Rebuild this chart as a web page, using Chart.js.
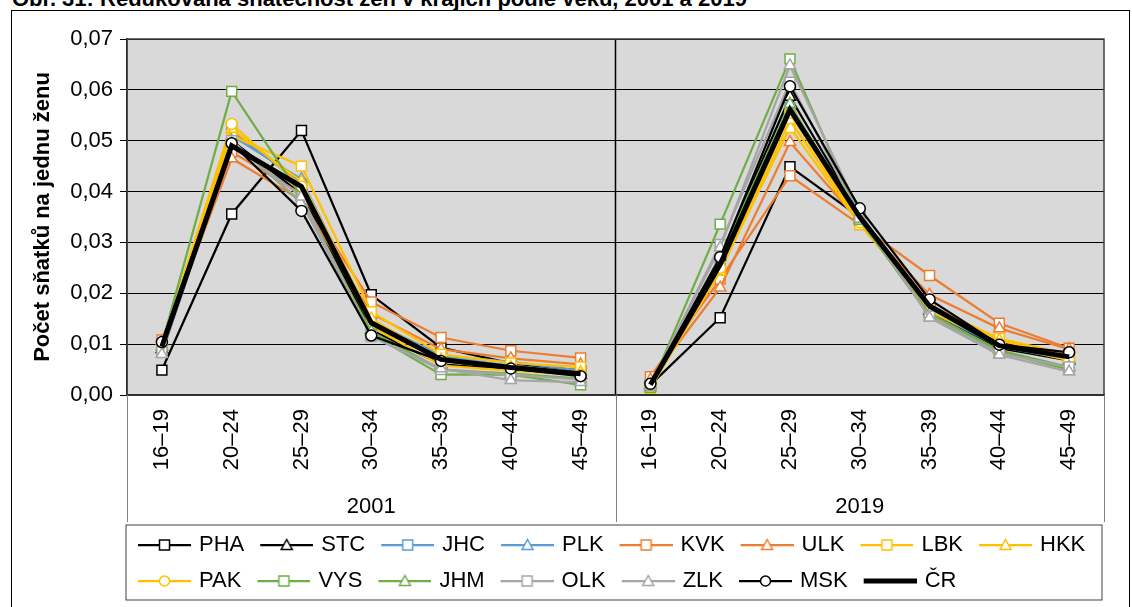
<!DOCTYPE html>
<html>
<head>
<meta charset="utf-8">
<script src="https://cdn.jsdelivr.net/npm/chart.js@4.4.1/dist/chart.umd.min.js"></script>
<style>
  body { margin: 0; background: #fff; width: 1132px; height: 607px; overflow: hidden; position: relative; font-family: 'Liberation Sans', Arial, sans-serif; }
  #frame { position: absolute; left: 11px; top: 10px; width: 1119px; height: 650px; border: 1.5px solid #000; box-sizing: border-box; }
  #title { position: absolute; left: 12px; top: -12px; font-weight: bold; font-size: 22px; line-height: 22px; white-space: nowrap; }
  #wrap { position: absolute; left: 0; top: 0; width: 1132px; height: 607px; }
</style>
</head>
<body>
<div id="frame"></div>
<div id="title">Obr. 31: Redukovaná sňatečnost žen v krajích podle věku, 2001 a 2019</div>
<div id="wrap"><canvas id="chart" width="1132" height="607"></canvas></div>
<script>
const ageGroups = ['16–19', '20–24', '25–29', '30–34', '35–39', '40–44', '45–49'];
const years = ['2001', '2019'];

// 7 values for 2001, then 7 values for 2019
const PHA = [0.0049, 0.0356, 0.0520, 0.0197, 0.0093, 0.0062, 0.0048, 0.0020, 0.0152, 0.0449, 0.0350, 0.0178, 0.0102, 0.0080];
const STC = [0.0090, 0.0500, 0.0395, 0.0128, 0.0060, 0.0050, 0.0040, 0.0020, 0.0272, 0.0586, 0.0355, 0.0165, 0.0092, 0.0068];
const JHC = [0.0100, 0.0520, 0.0415, 0.0140, 0.0075, 0.0058, 0.0045, 0.0020, 0.0255, 0.0565, 0.0345, 0.0165, 0.0095, 0.0070];
const PLK = [0.0095, 0.0510, 0.0424, 0.0145, 0.0078, 0.0065, 0.0048, 0.0020, 0.0250, 0.0555, 0.0345, 0.0170, 0.0098, 0.0072];
const KVK = [0.0108, 0.0478, 0.0395, 0.0183, 0.0113, 0.0087, 0.0073, 0.0036, 0.0228, 0.0431, 0.0335, 0.0235, 0.0141, 0.0092];
const ULK = [0.0105, 0.0465, 0.0383, 0.0160, 0.0090, 0.0072, 0.0060, 0.0030, 0.0211, 0.0497, 0.0340, 0.0197, 0.0131, 0.0090];
const LBK = [0.0100, 0.0510, 0.0450, 0.0164, 0.0080, 0.0063, 0.0055, 0.0013, 0.0245, 0.0526, 0.0335, 0.0175, 0.0111, 0.0080];
const HKK = [0.0095, 0.0523, 0.0420, 0.0150, 0.0070, 0.0055, 0.0045, 0.0015, 0.0243, 0.0540, 0.0340, 0.0170, 0.0108, 0.0075];
const PAK = [0.0100, 0.0533, 0.0410, 0.0135, 0.0058, 0.0048, 0.0040, 0.0020, 0.0250, 0.0555, 0.0340, 0.0165, 0.0100, 0.0068];
const VYS = [0.0100, 0.0597, 0.0390, 0.0120, 0.0040, 0.0040, 0.0020, 0.0015, 0.0336, 0.0661, 0.0345, 0.0155, 0.0085, 0.0050];
const JHM = [0.0095, 0.0500, 0.0378, 0.0125, 0.0050, 0.0042, 0.0032, 0.0015, 0.0272, 0.0572, 0.0345, 0.0160, 0.0088, 0.0055];
const OLK = [0.0085, 0.0500, 0.0380, 0.0115, 0.0050, 0.0040, 0.0030, 0.0020, 0.0296, 0.0615, 0.0350, 0.0155, 0.0082, 0.0055];
const ZLK = [0.0080, 0.0495, 0.0390, 0.0115, 0.0052, 0.0029, 0.0025, 0.0020, 0.0290, 0.0648, 0.0360, 0.0152, 0.0079, 0.0046];
const MSK = [0.0104, 0.0495, 0.0362, 0.0117, 0.0067, 0.0052, 0.0037, 0.0022, 0.0271, 0.0607, 0.0367, 0.0188, 0.0099, 0.0084];
const CR  = [0.0095, 0.0490, 0.0410, 0.0142, 0.0070, 0.0054, 0.0042, 0.0020, 0.0257, 0.0561, 0.0350, 0.0175, 0.0097, 0.0075];

const seriesNames = ['PHA', 'STC', 'JHC', 'PLK', 'KVK', 'ULK', 'LBK', 'HKK', 'PAK', 'VYS', 'JHM', 'OLK', 'ZLK', 'MSK', 'ČR'];
const seriesValues = [PHA, STC, JHC, PLK, KVK, ULK, LBK, HKK, PAK, VYS, JHM, OLK, ZLK, MSK, CR];

const BLACK = '#000000', BLUE = '#5B9BD5', ORANGE = '#ED7D31', GOLD = '#FFC000', GREEN = '#70AD47', GRAY = '#A5A5A5';
const seriesColors = [BLACK, BLACK, BLUE, BLUE, ORANGE, ORANGE, GOLD, GOLD, GOLD, GREEN, GREEN, GRAY, GRAY, BLACK, BLACK];
const seriesMarkers = ['rect', 'triangle', 'rect', 'triangle', 'rect', 'triangle', 'rect', 'triangle',
                       'circle', 'rect', 'triangle', 'rect', 'triangle', 'circle', false];

const labels = years.flatMap(() => ageGroups);

Chart.defaults.font.family = "'Liberation Sans', Arial, sans-serif";
Chart.defaults.font.size = 22;
Chart.defaults.color = '#000';

const markerRadius = { rect: 7, triangle: 6.5, circle: 5.5 };

// legend symbol: line with marker in the middle
function legendIcon(color, marker, lineWidth) {
  const c = document.createElement('canvas');
  c.width = 58; c.height = 16;
  const g = c.getContext('2d');
  g.strokeStyle = color;
  g.lineWidth = lineWidth;
  g.beginPath(); g.moveTo(5, 8); g.lineTo(58, 8); g.stroke();
  const cx = 31.5, cy = 8;
  g.fillStyle = '#fff';
  g.lineWidth = 1.5;
  g.beginPath();
  if (marker === 'rect') g.rect(cx - 5, cy - 5, 10, 10);
  else if (marker === 'triangle') { g.moveTo(cx, cy - 5.5); g.lineTo(cx + 5.5, cy + 4.5); g.lineTo(cx - 5.5, cy + 4.5); g.closePath(); }
  else if (marker === 'circle') g.arc(cx, cy, 5, 0, Math.PI * 2);
  if (marker) { g.fill(); g.stroke(); }
  return c;
}

const datasets = seriesNames.map((name, i) => {
  const color = seriesColors[i];
  const marker = seriesMarkers[i];
  const isTotal = !marker;
  return {
    label: name,
    data: seriesValues[i],
    borderColor: color,
    backgroundColor: '#fff',
    borderWidth: isTotal ? 5 : 2.25,
    pointStyle: marker || 'circle',
    pointRadius: isTotal ? 0 : markerRadius[marker],
    pointBorderWidth: 1.5,
    pointBorderColor: color,
    pointBackgroundColor: '#fff',
    tension: 0,
    order: -i,
    // no line between 2001 and 2019 blocks
    segment: { borderColor: ctx => ctx.p0DataIndex === ageGroups.length - 1 ? 'rgba(0,0,0,0)' : undefined },
    legendIcon: legendIcon(color, marker, isTotal ? 5 : 2.25)
  };
});

const yearGroups = {
  id: 'yearGroups',
  beforeDraw(chart) {
    const { ctx, chartArea: a } = chart;
    ctx.save();
    ctx.fillStyle = '#D9D9D9';
    ctx.fillRect(a.left, a.top, a.right - a.left, a.bottom - a.top);
    ctx.restore();
  },
  beforeDatasetsDraw(chart) {
    const { ctx, chartArea: a, scales: { x } } = chart;
    const step = x.getPixelForValue(1) - x.getPixelForValue(0);
    const mid = x.getPixelForValue(ageGroups.length) - step / 2;
    ctx.save();
    ctx.strokeStyle = '#000';
    ctx.lineWidth = 1.5;
    ctx.beginPath(); ctx.moveTo(mid, a.top); ctx.lineTo(mid, a.bottom); ctx.stroke();
    ctx.strokeStyle = '#404040';
    ctx.lineWidth = 1.5;
    ctx.strokeRect(a.left, a.top, a.right - a.left, a.bottom - a.top);
    ctx.restore();
  },
  afterDraw(chart) {
    const { ctx, chartArea: a, scales: { x } } = chart;
    const step = x.getPixelForValue(1) - x.getPixelForValue(0);
    const bottom = a.bottom + 127;
    ctx.save();
    ctx.strokeStyle = '#808080';
    ctx.lineWidth = 1;
    ctx.font = "22px 'Liberation Sans', Arial, sans-serif";
    ctx.fillStyle = '#000';
    ctx.textAlign = 'center';
    ctx.textBaseline = 'middle';
    years.forEach((year, k) => {
      const start = x.getPixelForValue(k * ageGroups.length) - step / 2;
      const end = x.getPixelForValue((k + 1) * ageGroups.length - 1) + step / 2;
      ctx.beginPath();
      ctx.moveTo(Math.round(start) + 0.5, a.bottom); ctx.lineTo(Math.round(start) + 0.5, bottom);
      ctx.moveTo(Math.round(end) + 0.5, a.bottom); ctx.lineTo(Math.round(end) + 0.5, bottom);
      ctx.stroke();
      ctx.fillText(year, (start + end) / 2, a.bottom + 112);
    });
    // legend frame
    const lg = chart.legend;
    ctx.strokeStyle = '#404040';
    ctx.strokeRect(a.left - 1, lg.top + 5, a.right - a.left - 1, 75);
    ctx.restore();
  },
  afterLayout(chart) {
    // legend starts under the plot, like the Excel legend box
    const lg = chart.legend;
    const shift = chart.chartArea.left - 5 - lg.left;
    lg.left += shift;
    lg.right += shift;
  }
};

new Chart(document.getElementById('chart'), {
  type: 'line',
  data: { labels: labels, datasets: datasets },
  plugins: [yearGroups],
  options: {
    responsive: false,
    animation: false,
    layout: { padding: { left: 22, right: 28, top: 39, bottom: 5 } },
    scales: {
      x: {
        offset: true,
        grid: { display: false, drawTicks: false },
        border: { display: true, color: '#000', width: 1.5 },
        ticks: { autoSkip: false, maxRotation: 90, minRotation: 90, padding: 14, font: { size: 22 } },
        afterFit: s => { s.height = 125; }
      },
      y: {
        min: 0,
        max: 0.07,
        border: { display: true, color: '#000', width: 1.5 },
        grid: {
          color: '#000',
          lineWidth: 1,
          borderDash: [3, 2],
          tickLength: 7,
          tickBorderDash: [],
          tickColor: '#000'
        },
        ticks: {
          stepSize: 0.01,
          padding: 7,
          font: { size: 22 },
          callback: v => v.toFixed(2).replace('.', ',')
        },
        title: {
          display: true,
          text: 'Počet sňatků na jednu ženu',
          font: { size: 22, weight: 'bold' },
          padding: { top: 8, bottom: 0 }
        },
        afterFit: s => { s.width = 105; }
      }
    },
    plugins: {
      tooltip: { enabled: false },
      legend: {
        position: 'bottom',
        align: 'start',
        labels: {
          usePointStyle: true,
          pointStyleWidth: 52,
          boxWidth: 52,
          boxHeight: 16,
          padding: 14,
          font: { size: 22 },
          generateLabels: chart => {
            const items = Chart.defaults.plugins.legend.labels.generateLabels(chart);
            items.forEach(it => { it.pointStyle = chart.data.datasets[it.datasetIndex].legendIcon; });
            return items;
          },
          sort: (a, b) => a.datasetIndex - b.datasetIndex
        }
      }
    }
  }
});
</script>
</body>
</html>
